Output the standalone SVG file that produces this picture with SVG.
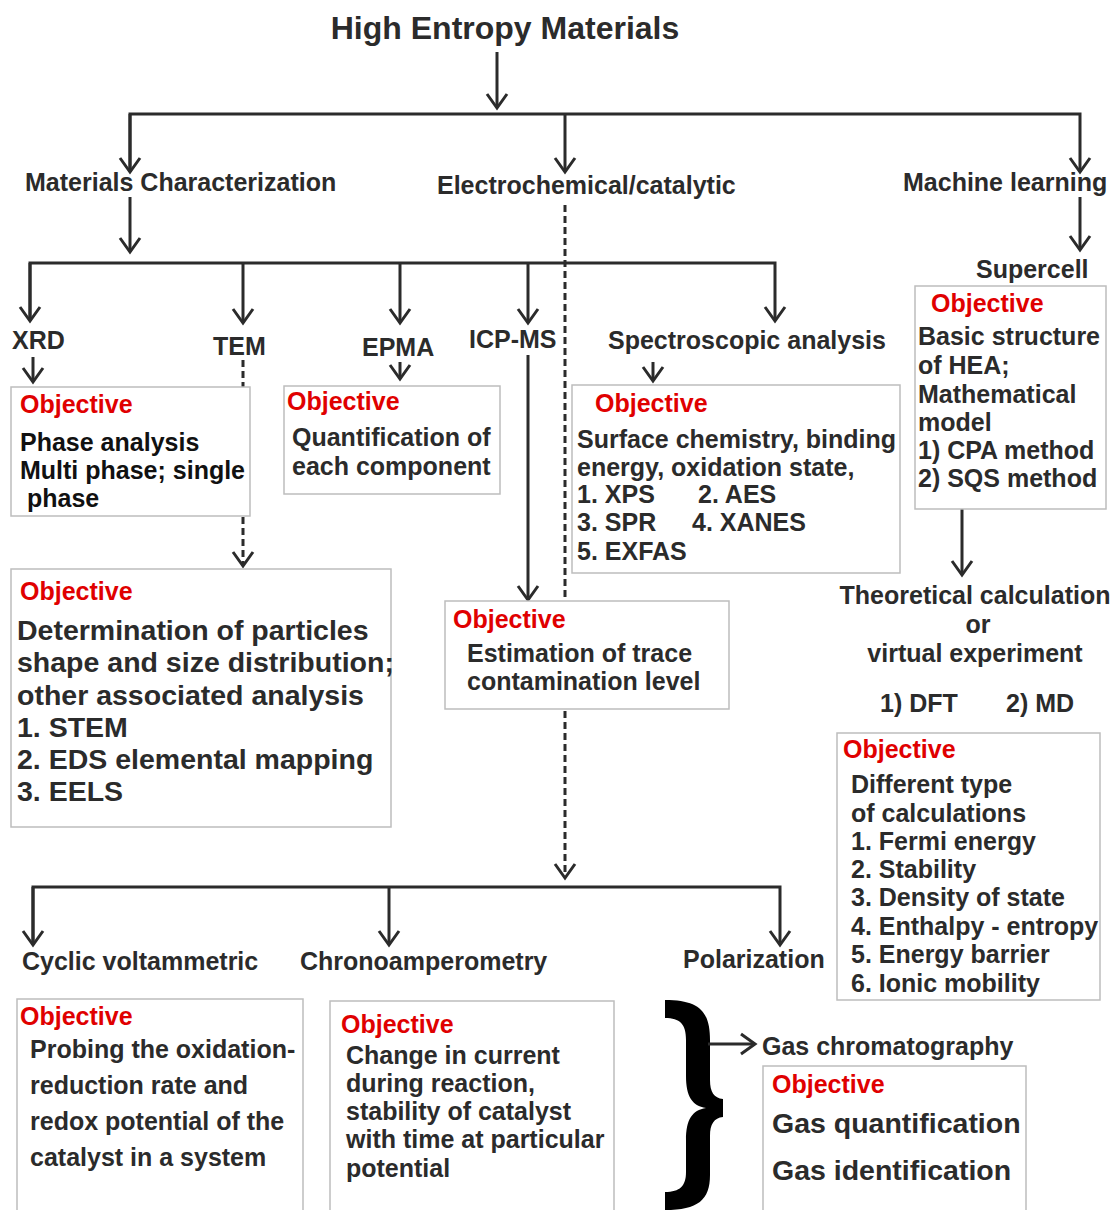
<svg xmlns="http://www.w3.org/2000/svg" width="1113" height="1210" viewBox="0 0 1113 1210">
<defs>
<marker id="arr" viewBox="0 0 30 30" refX="15" refY="15" markerWidth="30" markerHeight="30" markerUnits="userSpaceOnUse" orient="auto">
<path d="M1,5 L15,15 L1,25" fill="none" stroke="#2b2b2b" stroke-width="3" stroke-linejoin="miter"/>
</marker>
<style>
text{font-family:"Liberation Sans",Arial,sans-serif;font-weight:bold;fill:#2b2b2b;font-size:25px}
.title{font-size:32px}
.obj{fill:#e00000}
.big{font-size:28.5px}
.dk{fill:#111}
.box{fill:#fff;stroke:#bdbdbd;stroke-width:1.5}
.ln{fill:none;stroke:#2b2b2b;stroke-width:3}
.ds{stroke-dasharray:7 4}
.mid{text-anchor:middle}
</style>
</defs>
<rect width="1113" height="1210" fill="#fff"/>

<g id="connectors">
<path class="ln" d="M497,52 V108" marker-end="url(#arr)"/>
<path class="ln" d="M130,172 V114 H1080 V172" marker-end="url(#arr)"/>
<path class="ln" d="M565,114 V172" marker-end="url(#arr)"/>
<path class="ln" d="M130,114 V172" marker-end="url(#arr)"/>
<path class="ln" d="M130,197 V252" marker-end="url(#arr)"/>
<path class="ln" d="M30,321 V263 H775 V321" marker-end="url(#arr)"/>
<path class="ln" d="M30,263 V321" marker-end="url(#arr)"/>
<path class="ln" d="M243,263 V323" marker-end="url(#arr)"/>
<path class="ln" d="M400,263 V323" marker-end="url(#arr)"/>
<path class="ln" d="M528,263 V323" marker-end="url(#arr)"/>
<path class="ln" d="M33,357 V382" marker-end="url(#arr)"/>
<path class="ln ds" d="M243,360 V387"/>
<path class="ln ds" d="M243,517 V566" marker-end="url(#arr)"/>
<path class="ln" d="M400,362 V379" marker-end="url(#arr)"/>
<path class="ln" d="M528,355 V600" marker-end="url(#arr)"/>
<path class="ln" d="M653,362 V381" marker-end="url(#arr)"/>
<path class="ln ds" d="M565,205 V878" marker-end="url(#arr)"/>
<path class="ln" d="M1080,197 V250" marker-end="url(#arr)"/>
<path class="ln" d="M962,509 V575" marker-end="url(#arr)"/>
<path class="ln" d="M33,945 V887 H780 V945" marker-end="url(#arr)"/>
<path class="ln" d="M33,887 V945" marker-end="url(#arr)"/>
<path class="ln" d="M389,887 V945" marker-end="url(#arr)"/>
<path d="M665,1000 C700,1000 710,1012 710,1040 L710,1080 C710,1092 714,1098 723,1099 L723,1117 C714,1118 710,1124 710,1136 L710,1175 C710,1200 698,1210 665,1210 L665,1192 C680,1192 686,1186 686,1172 L686,1140 C686,1120 692,1110 706,1108 C692,1106 686,1096 686,1076 L686,1040 C686,1024 680,1018 665,1018 Z" fill="#000"/>
<path class="ln" d="M708,1044 H755" marker-end="url(#arr)"/>
</g>

<g id="title"><text class="title mid" x="505" y="39">High Entropy Materials</text></g>
<g id="matchar"><text x="25" y="191">Materials Characterization</text></g>
<g id="electro"><text x="437" y="194">Electrochemical/catalytic</text></g>
<g id="ml"><text x="903" y="191">Machine learning</text></g>

<g id="xrd"><text x="12" y="349">XRD</text></g>
<g id="tem"><text x="213" y="355">TEM</text></g>
<g id="epma"><text x="362" y="356">EPMA</text></g>
<g id="icpms"><text x="469" y="348">ICP-MS</text></g>
<g id="spectro"><text x="608" y="349">Spectroscopic analysis</text></g>
<g id="supercell"><text x="976" y="278">Supercell</text></g>

<g id="xrd-obj">
<rect class="box" x="11" y="387" width="239" height="129"/>
<text class="obj" x="20" y="413">Objective</text>
<text class="dk" x="20" y="451">Phase analysis</text>
<text class="dk" x="20" y="479">Multi phase; single</text>
<text class="dk" x="27" y="507">phase</text>
</g>

<g id="tem-obj">
<rect class="box" x="11" y="569" width="380" height="258"/>
<text class="obj" x="20" y="600">Objective</text>
<text class="big" x="17" y="640">Determination of particles</text>
<text class="big" x="17" y="672">shape and size distribution;</text>
<text class="big" x="17" y="705">other associated analysis</text>
<text class="big" x="17" y="737">1. STEM</text>
<text class="big" x="17" y="769">2. EDS elemental mapping</text>
<text class="big" x="17" y="801">3. EELS</text>
</g>

<g id="epma-obj">
<rect class="box" x="284" y="386" width="216" height="108"/>
<text class="obj" x="287" y="410">Objective</text>
<text x="292" y="446">Quantification of</text>
<text x="292" y="475">each component</text>
</g>

<g id="icp-obj">
<rect class="box" x="445" y="601" width="284" height="108"/>
<text class="obj" x="453" y="628">Objective</text>
<text x="467" y="662">Estimation of trace</text>
<text x="467" y="690">contamination level</text>
</g>

<g id="spectro-obj">
<rect class="box" x="572" y="385" width="328" height="188"/>
<text class="obj" x="595" y="412">Objective</text>
<text x="577" y="448">Surface chemistry, binding</text>
<text x="577" y="476">energy, oxidation state,</text>
<text x="577" y="503">1. XPS</text><text x="698" y="503">2. AES</text>
<text x="577" y="531">3. SPR</text><text x="692" y="531">4. XANES</text>
<text x="577" y="560">5. EXFAS</text>
</g>

<g id="supercell-obj">
<rect class="box" x="915" y="286" width="191" height="223"/>
<text class="obj" x="931" y="312">Objective</text>
<text x="918" y="345">Basic structure</text>
<text x="918" y="374">of HEA;</text>
<text x="918" y="403">Mathematical</text>
<text x="918" y="431">model</text>
<text x="918" y="459">1) CPA method</text>
<text x="918" y="487">2) SQS method</text>
</g>

<g id="theory">
<text class="mid" x="975" y="604">Theoretical calculation</text>
<text class="mid" x="978" y="633">or</text>
<text class="mid" x="975" y="662">virtual experiment</text>
<text x="880" y="712">1) DFT</text>
<text x="1006" y="712">2) MD</text>
</g>

<g id="theory-obj">
<rect class="box" x="837" y="733" width="263" height="267"/>
<text class="obj" x="843" y="758">Objective</text>
<text x="851" y="793">Different type</text>
<text x="851" y="822">of calculations</text>
<text x="851" y="850">1. Fermi energy</text>
<text x="851" y="878">2. Stability</text>
<text x="851" y="906">3. Density of state</text>
<text x="851" y="935">4. Enthalpy - entropy</text>
<text x="851" y="963">5. Energy barrier</text>
<text x="851" y="992">6. Ionic mobility</text>
</g>

<g id="cv"><text x="22" y="970">Cyclic voltammetric</text></g>
<g id="chrono"><text x="300" y="970">Chronoamperometry</text></g>
<g id="polar"><text x="683" y="968">Polarization</text></g>

<g id="cv-obj">
<rect class="box" x="17" y="999" width="286" height="220"/>
<text class="obj" x="20" y="1025">Objective</text>
<text x="30" y="1058">Probing the oxidation-</text>
<text x="30" y="1094">reduction rate and</text>
<text x="30" y="1130">redox potential of the</text>
<text x="30" y="1166">catalyst in a system</text>
</g>

<g id="chrono-obj">
<rect class="box" x="330" y="1001" width="284" height="220"/>
<text class="obj" x="341" y="1033">Objective</text>
<text x="346" y="1064">Change in current</text>
<text x="346" y="1092">during reaction,</text>
<text x="346" y="1120">stability of catalyst</text>
<text x="346" y="1148">with time at particular</text>
<text x="346" y="1177">potential</text>
</g>

<g id="gc"><text x="762" y="1055">Gas chromatography</text></g>
<g id="gc-obj">
<rect class="box" x="763" y="1066" width="263" height="155"/>
<text class="obj" x="772" y="1093">Objective</text>
<text class="big" x="772" y="1133">Gas quantification</text>
<text class="big" x="772" y="1180">Gas identification</text>
</g>
</svg>
